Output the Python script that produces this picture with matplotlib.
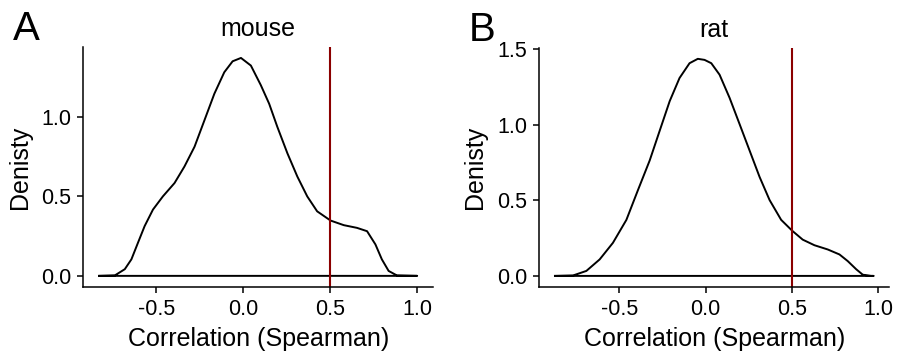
import matplotlib.pyplot as plt
import numpy as np

plt.rcParams['font.family'] = ['Liberation Sans', 'DejaVu Sans']

# density curves
mouse_x = [-0.828, -0.738, -0.681, -0.643, -0.605, -0.567, -0.519, -0.462, -0.395,
           -0.338, -0.28, -0.223, -0.166, -0.109, -0.061, -0.013, 0.044, 0.101,
           0.149, 0.196, 0.254, 0.311, 0.368, 0.425, 0.502, 0.578, 0.654, 0.712,
           0.76, 0.797, 0.836, 0.883, 1.0]
mouse_y = [0.0, 0.003, 0.042, 0.104, 0.209, 0.313, 0.417, 0.50, 0.584,
           0.688, 0.8125, 0.979, 1.146, 1.281, 1.35, 1.371, 1.323, 1.20,
           1.083, 0.9375, 0.771, 0.625, 0.50, 0.406, 0.348, 0.319, 0.302, 0.281,
           0.198, 0.104, 0.031, 0.003, 0.0]

rat_x = [-0.873, -0.768, -0.691, -0.614, -0.537, -0.459, -0.392, -0.324, -0.266,
         -0.208, -0.151, -0.093, -0.045, -0.006, 0.033, 0.081, 0.139, 0.197,
         0.255, 0.313, 0.371, 0.438, 0.502, 0.563, 0.631, 0.708, 0.776, 0.824,
         0.873, 0.911, 0.959, 0.973]
rat_y = [0.0, 0.003, 0.033, 0.109, 0.219, 0.371, 0.568, 0.764, 0.961,
         1.157, 1.31, 1.408, 1.437, 1.43, 1.408, 1.332, 1.179, 1.005,
         0.83, 0.655, 0.502, 0.371, 0.299, 0.240, 0.203, 0.175, 0.142, 0.098,
         0.044, 0.008, 0.0, 0.0]

cutoff = 0.5
panels = [('A', 'mouse', mouse_x, mouse_y, [0.0, 0.5, 1.0]),
          ('B', 'rat', rat_x, rat_y, [0.0, 0.5, 1.0, 1.5])]

fig = plt.figure(figsize=(8.99, 3.58), dpi=100)
boxes = [[0.0927, 0.199, 0.389, 0.6696], [0.5996, 0.199, 0.3897, 0.667]]

for (letter, name, xs, ys, yt), box in zip(panels, boxes):
    ax = fig.add_axes(box)
    xs = np.array(xs)
    ys = np.array(ys)
    # closed outline like geom_density
    ax.plot(np.append(xs, xs[0]), np.append(ys, ys[0]), color='black', lw=1.4,
            solid_joinstyle='round')
    ax.axvline(cutoff, color='#8B0000', lw=1.5)
    rng = xs.max() - xs.min()
    ax.set_xlim(xs.min() - 0.05 * rng, xs.max() + 0.05 * rng)
    ax.set_ylim(-0.05 * ys.max(), ys.max() * 1.05)
    ax.set_xticks([-0.5, 0.0, 0.5, 1.0])
    ax.set_yticks(yt)
    ax.xaxis.set_major_formatter(plt.FuncFormatter(lambda v, p: f'{v:.1f}'))
    ax.yaxis.set_major_formatter(plt.FuncFormatter(lambda v, p: f'{v:.1f}'))
    for s in ['top', 'right']:
        ax.spines[s].set_visible(False)
    for s in ['left', 'bottom']:
        ax.spines[s].set_linewidth(1.1)
    ax.tick_params(direction='out', length=4.5, width=1.1, labelsize=15.5,
                   colors='black', pad=4)
    ax.set_xlabel('Correlation (Spearman)', fontsize=18, labelpad=5)
    ax.set_ylabel('Denisty', fontsize=18, labelpad=7)
    ax.set_title(name, fontsize=18, pad=8)
    ax.text(-0.2, 1.155, letter, transform=ax.transAxes, fontsize=29,
            va='top', ha='left')

fig.savefig('out.png', dpi=100)
